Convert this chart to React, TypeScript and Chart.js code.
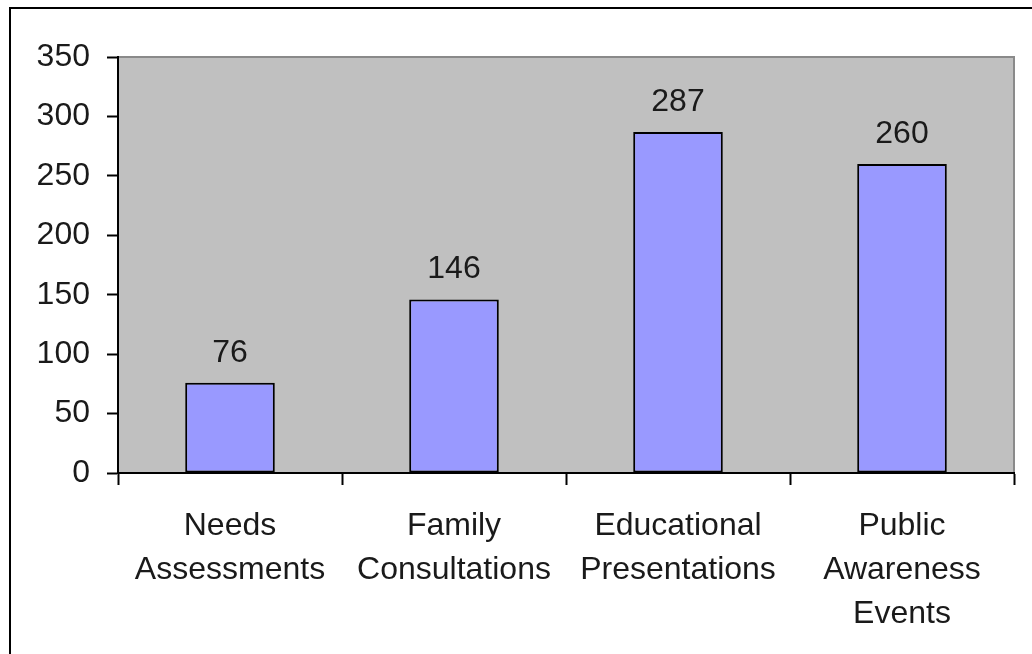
import React, { useEffect, useRef } from "react";
import { Chart, registerables } from "chart.js";

Chart.register(...registerables);

const categories: string[][] = [
  ["Needs", "Assessments"],
  ["Family", "Consultations"],
  ["Educational", "Presentations"],
  ["Public", "Awareness", "Events"],
];
const values: number[] = [76, 146, 287, 260];
const yTicks: number[] = [0, 50, 100, 150, 200, 250, 300, 350];

const FONT = "'Liberation Sans', Arial, sans-serif";

const plotBg = {
  id: "plotBg",
  beforeDraw(chart: any) {
    const { ctx, chartArea: a } = chart;
    ctx.save();
    ctx.fillStyle = "#C0C0C0";
    ctx.fillRect(a.left, a.top, a.right - a.left, a.bottom - a.top);
    ctx.strokeStyle = "#8a8a8a";
    ctx.lineWidth = 2;
    ctx.strokeRect(a.left, a.top, a.right - a.left, a.bottom - a.top);
    ctx.restore();
  },
};

const valueLabels = {
  id: "valueLabels",
  afterDatasetsDraw(chart: any) {
    const { ctx } = chart;
    const meta = chart.getDatasetMeta(0);
    ctx.save();
    ctx.fillStyle = "#1a1a1a";
    ctx.font = `32px ${FONT}`;
    ctx.textAlign = "center";
    ctx.textBaseline = "alphabetic";
    meta.data.forEach((bar: any, i: number) => {
      ctx.fillText(String(values[i]), bar.x, bar.y - 21);
    });
    ctx.restore();
  },
};

export default function App() {
  const ref = useRef<HTMLCanvasElement>(null);
  useEffect(() => {
    if (!ref.current) return;
    const chart = new Chart(ref.current, {
      type: "bar",
      data: {
        labels: categories,
        datasets: [
          {
            data: values,
            backgroundColor: "#9999FF",
            borderColor: "#000000",
            borderWidth: 2,
            borderSkipped: false,
            barPercentage: 0.4,
            categoryPercentage: 1,
          },
        ],
      },
      options: {
        animation: false,
        responsive: false,
        maintainAspectRatio: false,
        layout: { padding: { top: 57, right: 18, left: 0, bottom: 0 } },
        plugins: { legend: { display: false }, tooltip: { enabled: false } },
        scales: {
          x: {
            grid: {
              offset: true,
              drawOnChartArea: false,
              drawTicks: true,
              tickLength: 12,
              tickWidth: 2,
              color: "#000",
            },
            border: { display: true, color: "#000", width: 2 },
            ticks: {
              color: "#1a1a1a",
              font: { family: FONT, size: 32, lineHeight: 1.375 },
              padding: 19,
              maxRotation: 0,
              autoSkip: false,
            },
            afterFit(scale: any) {
              scale.height = 181;
            },
          },
          y: {
            min: 0,
            max: 350,
            afterBuildTicks(scale: any) {
              scale.ticks = yTicks.map((v) => ({ value: v }));
            },
            grid: {
              drawOnChartArea: false,
              drawTicks: true,
              tickLength: 11,
              tickWidth: 2,
              color: "#000",
            },
            border: { display: true, color: "#000", width: 2 },
            ticks: {
              color: "#1a1a1a",
              font: { family: FONT, size: 32 },
              padding: 17,
            },
            afterFit(scale: any) {
              scale.width = 118;
            },
          },
        },
      },
      plugins: [plotBg, valueLabels],
    });
    return () => chart.destroy();
  }, []);

  return (
    <div
      style={{
        position: "fixed",
        left: 0,
        top: 0,
        width: 1032,
        height: 654,
        overflow: "hidden",
        background: "#fff",
      }}
    >
      <div
        style={{
          position: "absolute",
          left: 9,
          top: 7,
          width: 1100,
          height: 700,
          border: "2px solid #000",
          boxSizing: "border-box",
        }}
      />
      <canvas
        ref={ref}
        width={1032}
        height={654}
        style={{ position: "absolute", left: 0, top: 0, width: 1032, height: 654 }}
      />
    </div>
  );
}
